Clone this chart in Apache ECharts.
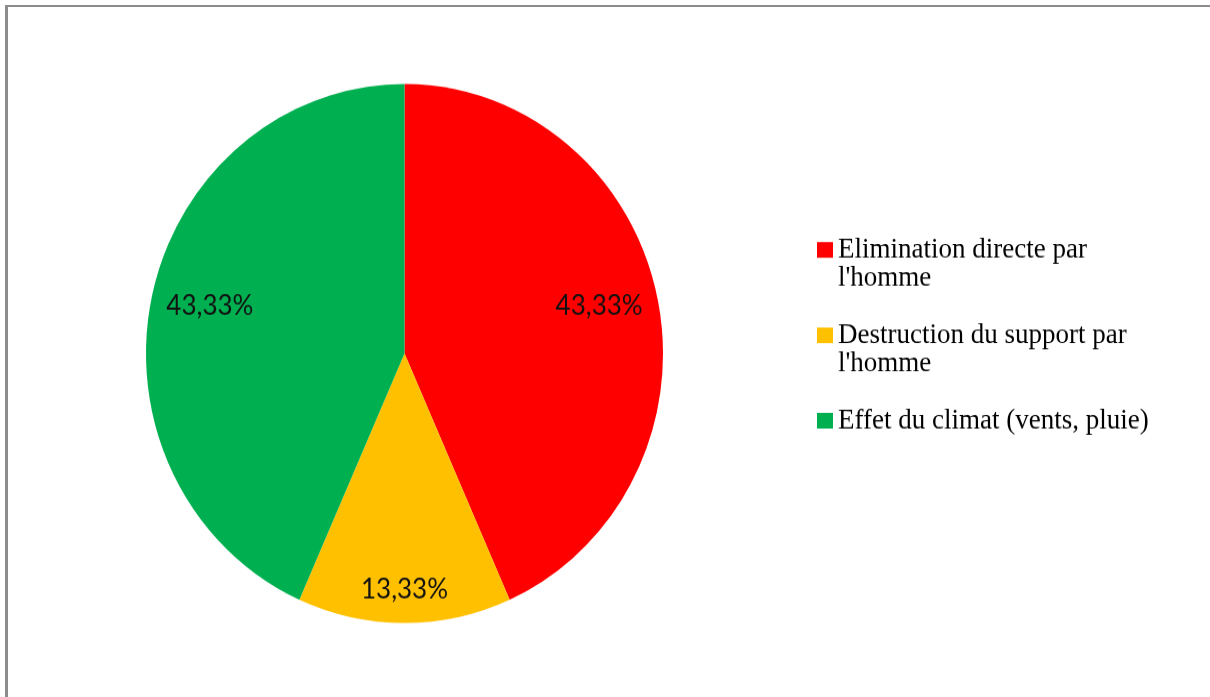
<!DOCTYPE html>
<html>
<head>
<meta charset="utf-8">
<script src="https://cdn.jsdelivr.net/npm/echarts@6/dist/echarts.min.js"></script>
<style>
  html, body { margin: 0; padding: 0; background: #ffffff; overflow: hidden; }
  #wrap { position: relative; width: 1210px; height: 697px; overflow: hidden; }
  #frame { position: absolute; left: 5px; top: 5px; width: 1202px; height: 720px;
           border-left: 3px solid #8c8c8c; border-top: 2px solid #8c8c8c; border-right: 1px solid #dcdcdc; }
  #chart { position: absolute; left: 0; top: 0; width: 1210px; height: 669px;
           transform: scaleY(1.0426); transform-origin: 0 0; }
</style>
</head>
<body>
<div id="wrap">
  <div id="frame"></div>
  <div id="chart"></div>
</div>
<script>
const categories = ["Elimination directe par\nl'homme", "Destruction du support par\nl'homme", "Effet du climat (vents, pluie)"];
const values = [43.33, 13.33, 43.33];
const colors = ['#FF0000', '#FFC000', '#00B050'];

const fmt = p => p.value.toFixed(2).replace('.', ',') + '%';
const L = 27.3;
const center = [404.5, 339.1];

function overlay(radiusOuter, showIdx, shiftY) {
  return {
    type: 'pie', radius: [0, radiusOuter], center: center, startAngle: 90, clockwise: true,
    silent: true, animation: false, emphasis: { disabled: true },
    labelLine: { show: false },
    labelLayout: { dy: shiftY },
    itemStyle: { color: 'rgba(0,0,0,0)', borderWidth: 0 },
    label: { show: true, position: 'inside', formatter: fmt, fontFamily: 'Lato', fontSize: 26, color: '#111' },
    data: categories.map((n, i) => ({ name: n, value: values[i], label: { show: showIdx.includes(i) } }))
  };
}

const chart = echarts.init(document.getElementById('chart'), null, { renderer: 'canvas' });
chart.setOption({
  animation: false,
  legend: {
    orient: 'vertical', left: 817, top: 239.7 - 1.5 * L, padding: 0, itemGap: 0,
    itemWidth: 16, itemHeight: 15, icon: 'rect', selectedMode: false,
    textStyle: { fontFamily: 'Liberation Serif', fontSize: 27, color: '#000', lineHeight: L },
    formatter: n => (n.indexOf('\n') >= 0 ? ' \n' + n : ' \n' + n + '\n '),
    data: categories.map((n, i) => ({ name: n, itemStyle: { color: colors[i] } }))
  },
  series: [
    {
      type: 'pie', radius: 258.5, center: center, startAngle: 90, clockwise: true,
      silent: true, emphasis: { disabled: true },
      label: { show: false }, labelLine: { show: false },
      itemStyle: { borderWidth: 0 },
      data: categories.map((n, i) => ({ name: n, value: values[i], itemStyle: { color: colors[i] } }))
    },
    overlay(392, [0, 2], -4),
    overlay(448, [1], 0)
  ]
});
</script>
</body>
</html>
